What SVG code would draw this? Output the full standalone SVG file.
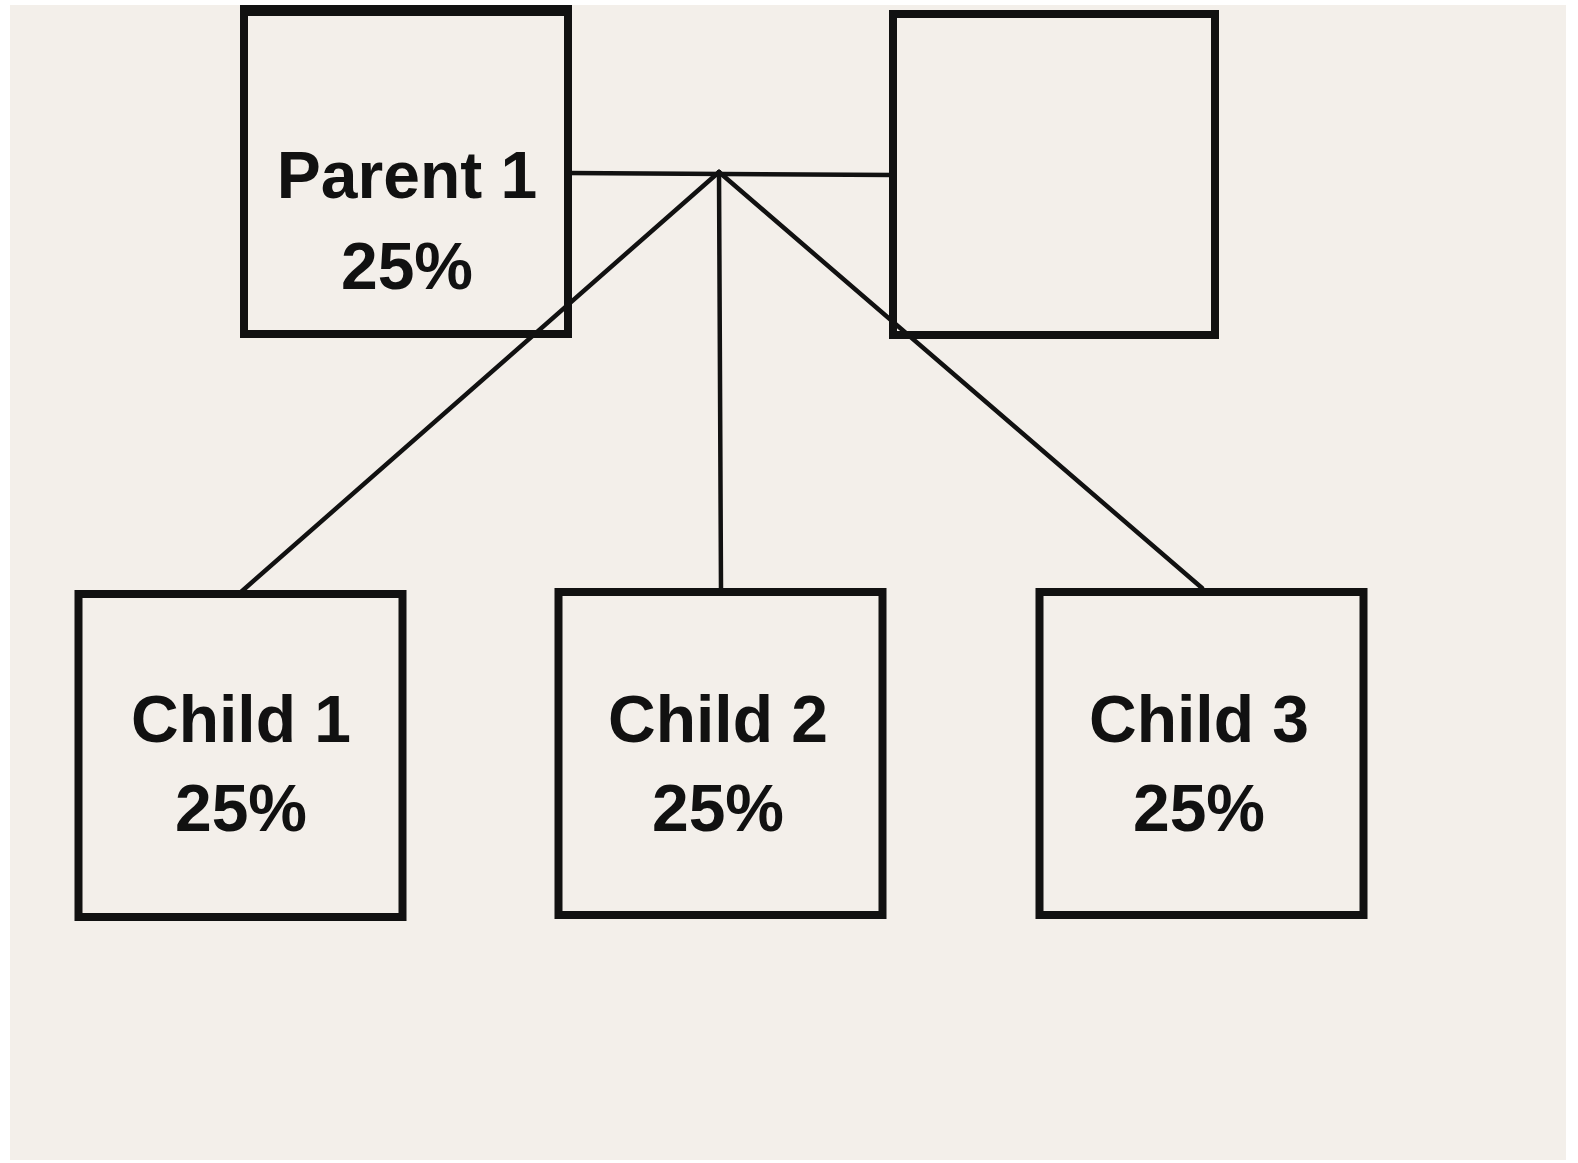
<svg xmlns="http://www.w3.org/2000/svg" width="1578" height="1163" viewBox="0 0 1578 1163">
  <style>
    .box { fill: none; stroke: #111; stroke-width: 8; }
    .conn { stroke: #111; stroke-width: 4.5; fill: none; stroke-linecap: round; }
    .lbl { font-family: "Liberation Sans", Arial, sans-serif; font-weight: bold; font-size: 66px; fill: #111; text-anchor: middle; }
  </style>
  <rect x="0" y="0" width="1578" height="1163" fill="#ffffff"/>
  <rect x="10" y="5" width="1556" height="1155" fill="#f3efea"/>
  <g id="connectors">
    <line class="conn" x1="568" y1="173" x2="893" y2="175"/>
    <line class="conn" x1="719" y1="172" x2="241" y2="592"/>
    <line class="conn" x1="719" y1="172" x2="721" y2="590"/>
    <line class="conn" x1="719" y1="172" x2="1202" y2="588"/>
  </g>
  <g id="parent1">
    <rect class="box" x="244" y="12" width="324" height="322"/>
    <rect x="240" y="5" width="332" height="9" fill="#111"/>
    <text class="lbl" x="407" y="198">Parent 1</text>
    <text class="lbl" x="407" y="289">25%</text>
  </g>
  <g id="parent2">
    <rect class="box" x="893" y="14" width="322" height="321"/>
  </g>
  <g id="child1">
    <rect class="box" x="78.5" y="594" width="324" height="323"/>
    <text class="lbl" x="241" y="742">Child 1</text>
    <text class="lbl" x="241" y="831">25%</text>
  </g>
  <g id="child2">
    <rect class="box" x="558.5" y="592" width="324" height="323"/>
    <text class="lbl" x="718" y="742">Child 2</text>
    <text class="lbl" x="718" y="831">25%</text>
  </g>
  <g id="child3">
    <rect class="box" x="1039.5" y="592" width="324" height="323"/>
    <text class="lbl" x="1199" y="742">Child 3</text>
    <text class="lbl" x="1199" y="831">25%</text>
  </g>
</svg>
